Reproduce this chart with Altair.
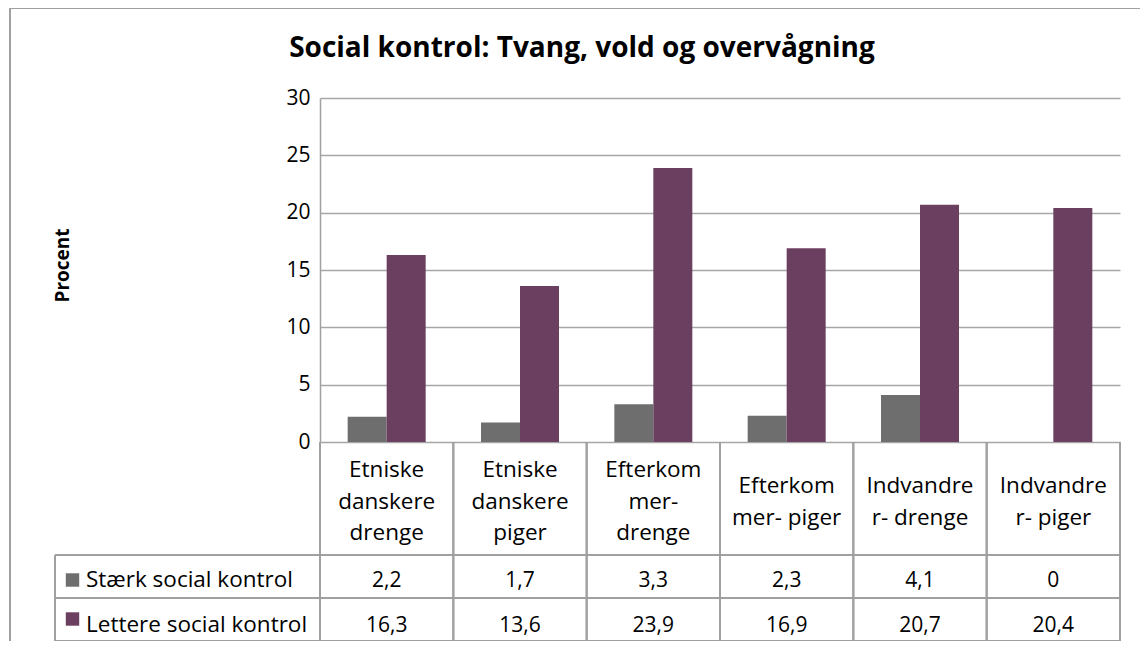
import altair as alt
import pandas as pd

# ---- data ----
categories = [
    "Etniske danskere drenge",
    "Etniske danskere piger",
    "Efterkommer-drenge",
    "Efterkommer-piger",
    "Indvandrer-drenge",
    "Indvandrer-piger",
]
category_labels = [
    "Etniske\ndanskere\ndrenge",
    "Etniske\ndanskere\npiger",
    "Efterkom\nmer-\ndrenge",
    "Efterkom\nmer- piger",
    "Indvandre\nr- drenge",
    "Indvandre\nr- piger",
]
series = ["Stærk social kontrol", "Lettere social kontrol"]
staerk = [2.2, 1.7, 3.3, 2.3, 4.1, 0]
lettere = [16.3, 13.6, 23.9, 16.9, 20.7, 20.4]
y_ticks = [0, 5, 10, 15, 20, 25, 30]
title_text = "Social kontrol: Tvang, vold og overvågning"
y_title = "Procent"

colors = ["#6e6e6e", "#6b3f5f"]
FONT = "Open Sans"
FS = 21      # numbers
FS_TXT = 22.5  # words
GRID = "#a6a6a6"
LINE = "#a0a0a0"

rows = []
for s, vals in zip(series, [staerk, lettere]):
    for c, v in zip(categories, vals):
        rows.append({"cat": c, "series": s, "value": v})
long_df = pd.DataFrame(rows)
cat_df = pd.DataFrame({"cat": categories, "label": category_labels})
series_df = pd.DataFrame({"series": series})
one = pd.DataFrame({"t": [title_text]})

W, H = 800, 344
BAR_W = 39

x_enc = alt.X("cat:N", sort=categories, axis=None,
              scale=alt.Scale(paddingInner=0, paddingOuter=0))
color_enc = alt.Color("series:N", legend=None,
                      scale=alt.Scale(domain=series, range=colors))
y_enc = alt.Y("value:Q", scale=alt.Scale(domain=[0, 30]),
              axis=alt.Axis(values=y_ticks, title=y_title, grid=True, ticks=False,
                            domain=True, domainColor=LINE, domainWidth=1.5,
                            gridColor=GRID, gridWidth=1.5,
                            labelFont=FONT, labelFontSize=FS, labelColor="#000000",
                            labelPadding=10,
                            titleFont=FONT, titleFontSize=19, titleFontWeight="bold",
                            titleColor="#000000",
                            titleX=-258, titleY=167, titleAlign="center",
                            titleBaseline="middle"))

bar_layers = []
for s, off in zip(series, [-BAR_W / 2, BAR_W / 2]):
    bar_layers.append(
        alt.Chart(long_df).transform_filter(alt.datum.series == s)
        .mark_bar(width=BAR_W, xOffset=off)
        .encode(x=x_enc, y=y_enc, color=color_enc))

# frame (top and left edges of the chart area)
frame_top = alt.Chart(one).mark_rule(color=LINE, strokeWidth=2).encode(
    x=alt.value(-310), x2=alt.value(830), y=alt.value(-90))
frame_left = alt.Chart(one).mark_rule(color=LINE, strokeWidth=2).encode(
    x=alt.value(-310), y=alt.value(-90), y2=alt.value(700))

# table grid lines
vlines_l = alt.Chart(cat_df).mark_rule(color=LINE, strokeWidth=2).encode(
    x=alt.X("cat:N", sort=categories, bandPosition=0, axis=None),
    y=alt.value(H), y2=alt.value(543))
vlines_r = alt.Chart(cat_df).mark_rule(color=LINE, strokeWidth=2).encode(
    x=alt.X("cat:N", sort=categories, bandPosition=1, axis=None),
    y=alt.value(H), y2=alt.value(543))
hl = []
for yy in [457, 500, 543]:
    hl.append(alt.Chart(one).mark_rule(color=LINE, strokeWidth=2).encode(
        x=alt.value(-265), x2=alt.value(W), y=alt.value(yy)))
left_line = alt.Chart(one).mark_rule(color=LINE, strokeWidth=2).encode(
    x=alt.value(-265), y=alt.value(457), y2=alt.value(543))

# category labels (first-line baseline depends on the number of lines)
cat_layers = []
for n, yy in [(3, 379), (2, 395)]:
    cat_layers.append(
        alt.Chart(cat_df)
        .transform_calculate(n="length(split(datum.label, '\\n'))")
        .transform_filter(alt.datum.n == n)
        .mark_text(font=FONT, fontSize=FS_TXT, lineBreak="\n", lineHeight=31.5,
                   baseline="alphabetic", align="center", color="#000000")
        .encode(x=x_enc, y=alt.value(yy), text="label:N"))

row_base = [489, 534]
row_sq = [482, 521]
row_layers = []
for s, yy, sq in zip(series, row_base, row_sq):
    row_layers.append(
        alt.Chart(long_df).transform_filter(alt.datum.series == s)
        .transform_calculate(txt="replace(toString(datum.value), '.', ',')")
        .mark_text(font=FONT, fontSize=FS, baseline="alphabetic", align="center",
                   color="#000000")
        .encode(x=x_enc, y=alt.value(yy), text="txt:N"))
    row_layers.append(
        alt.Chart(series_df).transform_filter(alt.datum.series == s)
        .mark_square(size=180, opacity=1, filled=True)
        .encode(x=alt.value(-247.5), y=alt.value(sq), color=color_enc))
    row_layers.append(
        alt.Chart(series_df).transform_filter(alt.datum.series == s)
        .mark_text(font=FONT, fontSize=FS_TXT, baseline="alphabetic", align="left",
                   color="#000000")
        .encode(x=alt.value(-234), y=alt.value(yy), text="series:N"))

title = alt.Chart(one).mark_text(
    font="Open Sans", fontSize=28, fontWeight="bold", align="center",
    baseline="alphabetic", color="#000000").encode(
    x=alt.value(262), y=alt.value(-41), text="t:N")

chart = alt.layer(
    *bar_layers, frame_top, frame_left, vlines_l, vlines_r, *hl, left_line,
    *cat_layers, *row_layers, title
).properties(
    width=W, height=H,
    autosize=alt.AutoSizeParams(type="none"),
    padding={"left": 312, "top": 90, "right": 20, "bottom": 199},
).configure_view(strokeWidth=0)

chart.save("out.html", embed_options={"renderer": "svg", "actions": False})
